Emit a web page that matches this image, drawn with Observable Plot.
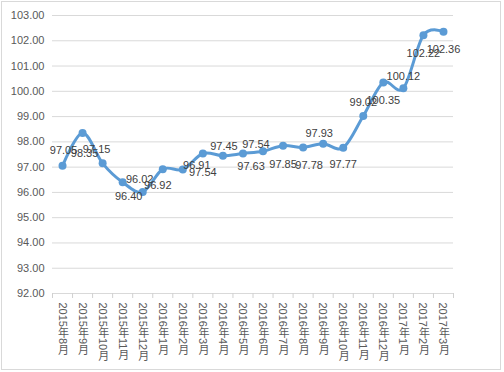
<!DOCTYPE html>
<html><head><meta charset="utf-8">
<script src="https://cdn.jsdelivr.net/npm/d3@7"></script>
<script src="https://cdn.jsdelivr.net/npm/@observablehq/plot@0.6"></script>
<style>body{margin:0;background:#fff;}</style>
</head><body><div id="chart"></div>
<script>
const months = ["2015年8月","2015年9月","2015年10月","2015年11月","2015年12月",
  "2016年1月","2016年2月","2016年3月","2016年4月","2016年5月","2016年6月",
  "2016年7月","2016年8月","2016年9月","2016年10月","2016年11月","2016年12月",
  "2017年1月","2017年2月","2017年3月"];
const values = [97.05, 98.35, 97.15, 96.40, 96.02, 96.92, 96.91, 97.54, 97.45, 97.54,
  97.63, 97.85, 97.78, 97.93, 97.77, 99.02, 100.35, 100.12, 102.22, 102.36];
const yTicks = [92, 93, 94, 95, 96, 97, 98, 99, 100, 101, 102, 103];

// label placement (pixel offsets from each point), layout only
const labelDx = [1, 2, -6, 6, -3, -5, 14, 0, 1, 13, -12, 0, 6, -4, 0, 0, 0, 0, 0, 0];
const labelDy = [-15, 20, -14, 14, -12, 16, -4, 19, -9, -9, 15, 19, 18, -10, 17, -14, 18, -12, 18, 18];

const data = months.map((m, i) => ({i, m, v: values[i]}));
const bounds = d3.range(months.length + 1).map(k => k - 0.5);
const font = "'Liberation Sans', Arial, 'Noto Sans CJK SC', sans-serif";

const svg = Plot.plot({
  width: 504, height: 372,
  marginLeft: 52, marginRight: 51, marginTop: 15, marginBottom: 79,
  x: {domain: [-0.5, months.length - 0.5], axis: null},
  y: {domain: [92, 103], axis: null},
  style: {fontFamily: font, fontSize: "11px", color: "#595959", background: "#fff", overflow: "visible"},
  marks: [
    Plot.gridY(yTicks, {stroke: "#d9d9d9", strokeOpacity: 1, strokeWidth: 1}),
    Plot.axisY(yTicks, {tickSize: 0, tickPadding: 8, tickFormat: d => d.toFixed(2), fill: "#595959", label: null}),
    Plot.ruleX(bounds, {x: d => d, y1: 92, y2: 92, insetBottom: -5, stroke: "#d0d0d0", strokeOpacity: 1}),
    Plot.text(data, {x: "i", frameAnchor: "bottom", text: "m", dy: 9, textAnchor: "start",
      lineAnchor: "bottom", fill: "#595959"}),
    Plot.line(data, {x: "i", y: "v", stroke: "#5b9bd5", strokeWidth: 3, curve: "cardinal", tension: 0}),
    Plot.dot(data, {x: "i", y: "v", r: 4, fill: "#5b9bd5", stroke: "none"}),
    ...data.map((d, k) => Plot.text([d], {x: "i", y: "v", text: e => e.v.toFixed(2),
      dx: labelDx[k], dy: labelDy[k], fill: "#404040", fontSize: 11}))
  ]
});

d3.select(svg).selectAll("text")
  .filter(function() { return months.includes(this.textContent); })
  .attr("dy", null)
  .attr("writing-mode", "tb")
  .style("writing-mode", "vertical-rl");
d3.select(svg).append("rect")
  .attr("x", 1.5).attr("y", 1.5).attr("width", 499).attr("height", 368)
  .attr("fill", "none").attr("stroke", "#d9d9d9");
document.getElementById("chart").append(svg);
</script>
</body></html>
